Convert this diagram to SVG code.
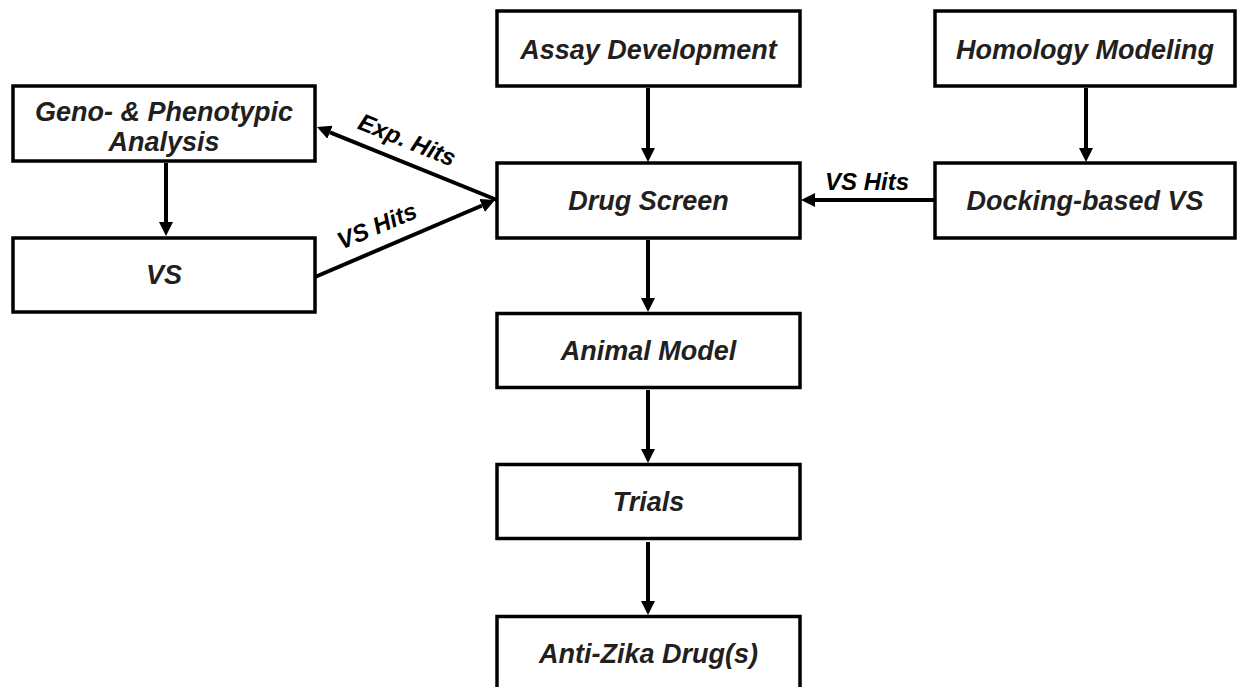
<svg xmlns="http://www.w3.org/2000/svg" width="1237" height="687" viewBox="0 0 1237 687">
<style>
.box{fill:#fff;stroke:#000;stroke-width:3.5}
.t{font-family:"Liberation Sans",Arial,sans-serif;font-weight:bold;font-style:italic;font-size:27px;fill:#231f20;text-anchor:middle}
.l{font-family:"Liberation Sans",Arial,sans-serif;font-weight:bold;font-style:italic;font-size:24px;fill:#000;text-anchor:middle}
.c{stroke:#000;stroke-width:4;fill:none;marker-end:url(#ah)}
</style>
<defs>
<marker id="ah" markerUnits="userSpaceOnUse" markerWidth="14" markerHeight="14" refX="0" refY="7" orient="auto">
<path d="M0,0 L14,7 L0,14 z" fill="#000"/>
</marker>
</defs>
<rect width="1237" height="687" fill="#fff"/>
<g id="connectors">
<line class="c" x1="648" y1="88" x2="648" y2="148"/>
<line class="c" x1="648" y1="240" x2="648" y2="298"/>
<line class="c" x1="648" y1="390" x2="648" y2="449"/>
<line class="c" x1="648" y1="542" x2="648" y2="601"/>
<line class="c" x1="1086" y1="88" x2="1086" y2="148"/>
<line class="c" x1="166" y1="163" x2="166" y2="222"/>
<line class="c" x1="934" y1="200" x2="815" y2="200"/>
<line class="c" x1="497" y1="200" x2="330" y2="132.3"/>
<line class="c" x1="315" y1="277" x2="482.1" y2="205.5"/>
<text class="l" transform="translate(407,140) rotate(22)" y="8">Exp. Hits</text>
<text class="l" transform="translate(377,226) rotate(-23)" y="8">VS Hits</text>
<text class="l" x="867" y="190">VS Hits</text>
</g>
<g id="assay"><rect class="box" x="497" y="11" width="303" height="75"/><text class="t" x="648.5" y="58.5">Assay Development</text></g>
<g id="homology"><rect class="box" x="935" y="11" width="300" height="75"/><text class="t" x="1085" y="58.5">Homology Modeling</text></g>
<g id="geno"><rect class="box" x="13" y="86" width="302" height="75"/><text class="t" x="164" y="121">Geno- &amp; Phenotypic</text><text class="t" x="164" y="151">Analysis</text></g>
<g id="drugscreen"><rect class="box" x="497" y="163" width="303" height="75"/><text class="t" x="648.5" y="210">Drug Screen</text></g>
<g id="docking"><rect class="box" x="935" y="163" width="300" height="75"/><text class="t" x="1085" y="210">Docking-based VS</text></g>
<g id="vs"><rect class="box" x="13" y="238" width="302" height="74"/><text class="t" x="164" y="284">VS</text></g>
<g id="animal"><rect class="box" x="497" y="313.5" width="303" height="74"/><text class="t" x="648.5" y="360">Animal Model</text></g>
<g id="trials"><rect class="box" x="497" y="464.5" width="303" height="74"/><text class="t" x="648.5" y="511">Trials</text></g>
<g id="antizika"><rect class="box" x="497" y="616.5" width="303" height="80"/><text class="t" x="648.5" y="663">Anti-Zika Drug(s)</text></g>
</svg>
